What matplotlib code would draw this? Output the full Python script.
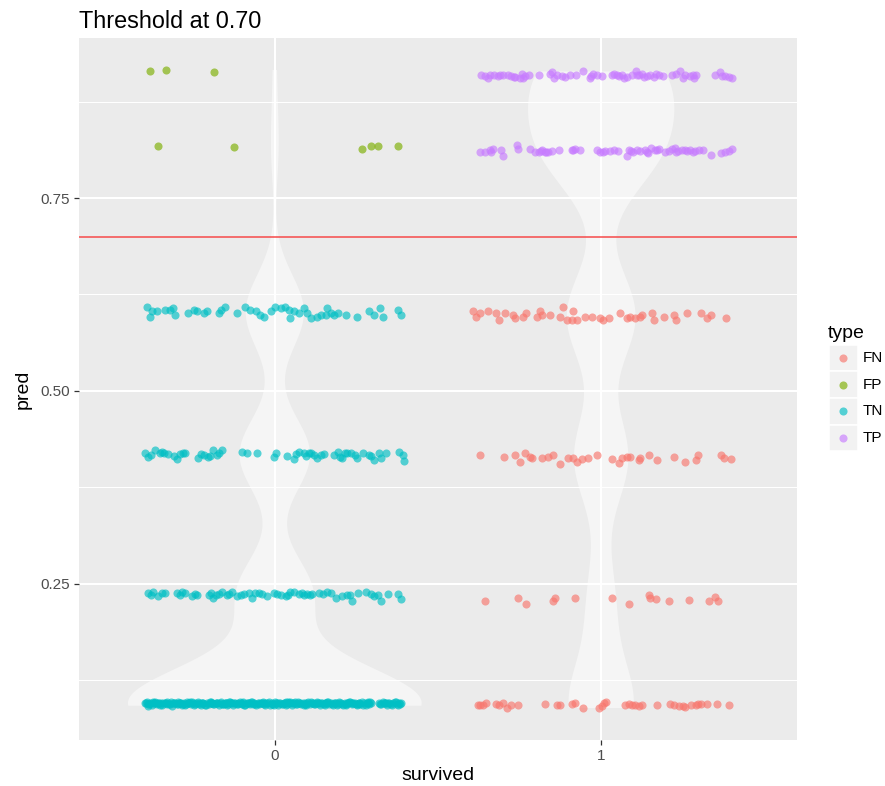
import numpy as np
import matplotlib
matplotlib.use("Agg")
import matplotlib.pyplot as plt
from matplotlib.patches import Rectangle

plt.rcParams["font.family"] = ["Liberation Sans", "DejaVu Sans"]

# ---------------------------------------------------------------- data
type_names = ["FN", "FP", "TN", "TP"]
type_colors = ["#F8766D", "#7CAE00", "#00BFC4", "#C77CFF"]
survived_levels = [0, 1]
threshold = 0.70
y_ticks = [0.25, 0.50, 0.75]
y_tick_labels = ["0.25", "0.50", "0.75"]

# jitter offsets (x, relative to the survived level) and predictions per band
fp_hi_x = [-0.382, -0.332, -0.187]
fp_hi_y = [0.914, 0.916, 0.913]
fp_lo_x = [-0.357, -0.124, 0.267, 0.294, 0.315, 0.378]
fp_lo_y = [0.817, 0.816, 0.814, 0.818, 0.817, 0.818]

tp_hi_x = [-0.367, -0.355, -0.342, -0.328, -0.316, -0.300, -0.287, -0.275, -0.263, -0.249,
           -0.239, -0.232, -0.222, -0.191, -0.157, -0.150, -0.136, -0.121, -0.111, -0.095,
           -0.078, -0.057, -0.034, -0.024, -0.013, 0.002, 0.033, 0.048, 0.055, 0.064,
           0.079, 0.094, 0.107, 0.115, 0.125, 0.141, 0.151, 0.161, 0.176, 0.189,
           0.217, 0.230, 0.243, 0.258, 0.271, 0.284, 0.289, 0.349, 0.363, 0.379,
           0.392, 0.402,
           -0.348, -0.310, -0.268, -0.243, -0.145, -0.030, 0.040, 0.070, 0.110, 0.132,
           0.168, 0.250, 0.280, 0.370]
tp_hi_y = [0.909, 0.908, 0.910, 0.909, 0.908, 0.909, 0.910, 0.908, 0.907, 0.906,
           0.905, 0.908, 0.910, 0.909, 0.911, 0.913, 0.910, 0.908, 0.907, 0.909,
           0.910, 0.914, 0.905, 0.911, 0.909, 0.908, 0.909, 0.910, 0.908, 0.909,
           0.907, 0.910, 0.914, 0.909, 0.911, 0.908, 0.909, 0.907, 0.910, 0.908,
           0.909, 0.911, 0.914, 0.910, 0.908, 0.905, 0.909, 0.909, 0.913, 0.908,
           0.907, 0.906,
           0.906, 0.910, 0.907, 0.911, 0.906, 0.908, 0.911, 0.906, 0.910, 0.907,
           0.911, 0.906, 0.910, 0.908]

tp_lo_x = [-0.372, -0.357, -0.342, -0.331, -0.306, -0.300, -0.259, -0.256, -0.218, -0.203,
           -0.191, -0.180, -0.172, -0.164, -0.150, -0.129, -0.090, -0.080, -0.065, -0.013,
           -0.003, 0.012, 0.028, 0.038, 0.053, 0.079, 0.086, 0.099, 0.110, 0.120,
           0.135, 0.144, 0.154, 0.166, 0.178, 0.195, 0.209, 0.217, 0.226, 0.236,
           0.248, 0.258, 0.271, 0.287, 0.299, 0.312, 0.335, 0.366, 0.379, 0.392,
           0.402,
           -0.338, -0.185, -0.168, -0.085, 0.005, 0.092, 0.140, 0.172, 0.230, 0.262, 0.280]
tp_lo_y = [0.809, 0.810, 0.812, 0.814, 0.812, 0.805, 0.819, 0.813, 0.814, 0.810,
           0.810, 0.812, 0.809, 0.810, 0.811, 0.812, 0.812, 0.813, 0.812, 0.812,
           0.810, 0.811, 0.811, 0.812, 0.811, 0.805, 0.812, 0.810, 0.812, 0.811,
           0.812, 0.808, 0.815, 0.812, 0.813, 0.809, 0.811, 0.813, 0.815, 0.811,
           0.812, 0.812, 0.812, 0.811, 0.812, 0.812, 0.806, 0.808, 0.810, 0.811,
           0.813,
           0.810, 0.811, 0.809, 0.812, 0.810, 0.811, 0.809, 0.812, 0.810, 0.811, 0.809]

tn_60_x = [-0.393, -0.383, -0.377, -0.362, -0.336, -0.321, -0.311, -0.306, -0.265, -0.249,
           -0.239, -0.218, -0.208, -0.172, -0.165, -0.152, -0.116, -0.090, -0.077, -0.059,
           -0.046, -0.032, -0.013, 0.002, 0.018, 0.030, 0.043, 0.048, 0.058, 0.074,
           0.089, 0.099, 0.110, 0.128, 0.141, 0.156, 0.161, 0.171, 0.182, 0.194,
           0.217, 0.253, 0.289, 0.305, 0.323, 0.330, 0.376, 0.387]
tn_60_y = [0.609, 0.596, 0.603, 0.603, 0.605, 0.605, 0.607, 0.598, 0.601, 0.605,
           0.603, 0.601, 0.603, 0.601, 0.605, 0.609, 0.601, 0.609, 0.605, 0.603,
           0.598, 0.596, 0.603, 0.609, 0.607, 0.609, 0.605, 0.594, 0.603, 0.601,
           0.607, 0.601, 0.594, 0.596, 0.598, 0.598, 0.607, 0.601, 0.598, 0.601,
           0.598, 0.596, 0.603, 0.598, 0.607, 0.596, 0.605, 0.598]

fn_60_x = [-0.393, -0.383, -0.370, -0.347, -0.321, -0.313, -0.295, -0.270, -0.265, -0.239,
           -0.231, -0.198, -0.188, -0.182, -0.157, -0.126, -0.116, -0.106, -0.090, -0.087,
           -0.075, -0.049, -0.029, -0.003, 0.007, 0.023, 0.058, 0.079, 0.089, 0.105,
           0.120, 0.125, 0.156, 0.161, 0.192, 0.222, 0.228, 0.264, 0.305, 0.325,
           0.335, 0.382]
fn_60_y = [0.603, 0.596, 0.601, 0.603, 0.601, 0.592, 0.601, 0.598, 0.594, 0.596,
           0.601, 0.596, 0.603, 0.598, 0.598, 0.596, 0.609, 0.592, 0.592, 0.603,
           0.592, 0.596, 0.596, 0.594, 0.592, 0.594, 0.601, 0.594, 0.596, 0.594,
           0.596, 0.598, 0.601, 0.592, 0.596, 0.598, 0.592, 0.601, 0.601, 0.594,
           0.598, 0.595]

tn_42_x = [-0.398, -0.388, -0.367, -0.352, -0.339, -0.326, -0.300, -0.290, -0.275, -0.234,
           -0.218, -0.198, -0.190, -0.177, -0.162, -0.101, -0.085, -0.054, -0.003, 0.005,
           0.036, 0.058, 0.074, 0.089, 0.105, 0.120, 0.128, 0.151, 0.182, 0.194,
           0.207, 0.222, 0.233, 0.253, 0.269, 0.289, 0.305, 0.325, 0.341, 0.382,
           0.392, 0.397,
           -0.380, -0.345, -0.310, -0.282, -0.225, -0.205, -0.170, 0.065, 0.097, 0.112,
           0.140, 0.200, 0.215, 0.245, 0.295, 0.318]
tn_42_y = [0.419, 0.415, 0.423, 0.419, 0.420, 0.418, 0.412, 0.418, 0.419, 0.413,
           0.417, 0.416, 0.423, 0.417, 0.423, 0.421, 0.420, 0.419, 0.415, 0.420,
           0.416, 0.412, 0.421, 0.419, 0.419, 0.417, 0.413, 0.418, 0.417, 0.421,
           0.413, 0.419, 0.419, 0.413, 0.419, 0.417, 0.411, 0.413, 0.420, 0.421,
           0.417, 0.409,
           0.417, 0.421, 0.416, 0.420, 0.418, 0.415, 0.420, 0.418, 0.416, 0.420,
           0.417, 0.415, 0.420, 0.417, 0.416, 0.419]

fn_42_x = [-0.372, -0.298, -0.265, -0.249, -0.234, -0.218, -0.213, -0.182, -0.162, -0.147,
           -0.126, -0.101, -0.085, -0.075, -0.059, -0.039, -0.013, 0.033, 0.056, 0.064,
           0.079, 0.089, 0.115, 0.120, 0.146, 0.171, 0.222, 0.258, 0.289, 0.296,
           0.366, 0.376, 0.397]
fn_42_y = [0.417, 0.414, 0.417, 0.408, 0.420, 0.414, 0.413, 0.413, 0.414, 0.417,
           0.405, 0.413, 0.413, 0.408, 0.412, 0.413, 0.417, 0.412, 0.407, 0.413,
           0.414, 0.415, 0.411, 0.413, 0.417, 0.411, 0.414, 0.408, 0.411, 0.417,
           0.417, 0.413, 0.412]

tn_24_x = [-0.388, -0.372, -0.357, -0.336, -0.300, -0.285, -0.275, -0.254, -0.239, -0.203,
           -0.188, -0.172, -0.162, -0.147, -0.131, -0.116, -0.095, -0.080, -0.070, -0.049,
           -0.039, -0.024, -0.003, 0.018, 0.033, 0.048, 0.058, 0.074, 0.089, 0.099,
           0.115, 0.135, 0.161, 0.171, 0.187, 0.207, 0.222, 0.238, 0.255, 0.279,
           0.296, 0.305, 0.325, 0.346, 0.376, 0.387,
           -0.380, -0.345, -0.292, -0.246, -0.195, -0.180, -0.139, -0.105, -0.060, 0.008,
           0.040, 0.082, 0.107, 0.148, 0.230, 0.315]
tn_24_y = [0.238, 0.239, 0.234, 0.238, 0.238, 0.239, 0.238, 0.234, 0.236, 0.236,
           0.232, 0.237, 0.239, 0.235, 0.239, 0.234, 0.237, 0.238, 0.232, 0.238,
           0.237, 0.234, 0.238, 0.236, 0.234, 0.239, 0.240, 0.237, 0.236, 0.237,
           0.237, 0.238, 0.240, 0.238, 0.232, 0.234, 0.236, 0.228, 0.238, 0.240,
           0.237, 0.234, 0.228, 0.237, 0.237, 0.230,
           0.236, 0.238, 0.235, 0.237, 0.238, 0.236, 0.237, 0.236, 0.238, 0.237,
           0.235, 0.238, 0.236, 0.237, 0.235, 0.236]

fn_24_x = [-0.357, -0.256, -0.231, -0.147, -0.142, -0.080, 0.033, 0.084, 0.146, 0.151,
           0.169, 0.207, 0.269, 0.330, 0.348, 0.358]
fn_24_y = [0.228, 0.232, 0.224, 0.228, 0.232, 0.232, 0.232, 0.224, 0.235, 0.232,
           0.230, 0.228, 0.229, 0.228, 0.233, 0.228]

tn_10_x = [-0.398, -0.392, -0.388, -0.381, -0.377, -0.370, -0.366, -0.361, -0.354, -0.349,
           -0.345, -0.338, -0.333, -0.329, -0.322, -0.316, -0.311, -0.307, -0.300, -0.296,
           -0.289, -0.284, -0.279, -0.273, -0.268, -0.262, -0.258, -0.251, -0.247, -0.240,
           -0.236, -0.231, -0.224, -0.219, -0.214, -0.208, -0.203, -0.197, -0.193, -0.186,
           -0.181, -0.176, -0.171, -0.165, -0.160, -0.154, -0.150, -0.143, -0.139, -0.133,
           -0.128, -0.122, -0.117, -0.112, -0.106, -0.101, -0.096, -0.090, -0.085, -0.079,
           -0.075, -0.069, -0.064, -0.058, -0.053, -0.048, -0.042, -0.037, -0.032, -0.026,
           -0.021, -0.016, -0.010, -0.005, 0.001, 0.006, 0.011, 0.017, 0.022, 0.027,
           0.033, 0.038, 0.043, 0.049, 0.054, 0.059, 0.065, 0.070, 0.075, 0.081,
           0.086, 0.091, 0.097, 0.102, 0.107, 0.113, 0.118, 0.123, 0.129, 0.134,
           0.139, 0.145, 0.150, 0.155, 0.161, 0.166, 0.171, 0.177, 0.182, 0.187,
           0.193, 0.198, 0.203, 0.209, 0.214, 0.219, 0.225, 0.230, 0.235, 0.241,
           0.246, 0.251, 0.257, 0.262, 0.267, 0.273, 0.278, 0.284, 0.289, 0.294,
           0.320, 0.326, 0.331, 0.337, 0.343, 0.349, 0.356, 0.362, 0.368, 0.374,
           0.380, 0.386,
           -0.395, -0.384, -0.374, -0.363, -0.352, -0.342, -0.331, -0.319, -0.309, -0.298,
           -0.287, -0.276, -0.265, -0.255, -0.244, -0.233, -0.222, -0.211, -0.200, -0.190,
           -0.178, -0.168, -0.157, -0.147, -0.136, -0.125, -0.114, -0.104, -0.093, -0.082,
           -0.072, -0.061, -0.050, -0.040, -0.029, -0.018, -0.008, 0.003, 0.014, 0.025,
           0.035, 0.046, 0.057, 0.067, 0.078, 0.088, 0.099, 0.110, 0.121, 0.131,
           0.142, 0.153, 0.163, 0.174, 0.185, 0.196, 0.206, 0.217, 0.227, 0.238,
           0.249, 0.259, 0.270, 0.281, 0.291, 0.323, 0.334, 0.346, 0.359, 0.371,
           0.383, -0.390, -0.358, -0.325, -0.293, -0.260, -0.227, -0.195, -0.163, -0.130,
           -0.098, -0.066, -0.034, -0.002, 0.030, 0.062, 0.094, 0.126, 0.158, 0.190,
           0.222, 0.254, 0.286, 0.340, 0.377, -0.372, -0.281, -0.150, 0.041]
tn_10_y = [0.095, 0.097, 0.094, 0.096, 0.093, 0.095, 0.097, 0.094, 0.096, 0.095,
           0.093, 0.096, 0.095, 0.097, 0.094, 0.092, 0.096, 0.095, 0.094, 0.097,
           0.095, 0.093, 0.096, 0.094, 0.097, 0.095, 0.094, 0.096, 0.093, 0.095,
           0.097, 0.094, 0.096, 0.095, 0.093, 0.096, 0.094, 0.097, 0.095, 0.094,
           0.096, 0.095, 0.093, 0.097, 0.094, 0.096, 0.095, 0.094, 0.097, 0.095,
           0.093, 0.096, 0.094, 0.095, 0.097, 0.094, 0.096, 0.093, 0.095, 0.096,
           0.094, 0.097, 0.095, 0.093, 0.096, 0.094, 0.095, 0.097, 0.094, 0.096,
           0.095, 0.093, 0.096, 0.094, 0.097, 0.095, 0.093, 0.096, 0.094, 0.095,
           0.097, 0.094, 0.096, 0.095, 0.093, 0.096, 0.094, 0.097, 0.095, 0.094,
           0.096, 0.095, 0.093, 0.097, 0.094, 0.096, 0.095, 0.094, 0.097, 0.095,
           0.093, 0.096, 0.094, 0.095, 0.097, 0.094, 0.096, 0.093, 0.095, 0.096,
           0.094, 0.097, 0.095, 0.093, 0.096, 0.094, 0.095, 0.097, 0.094, 0.096,
           0.095, 0.093, 0.096, 0.094, 0.097, 0.095, 0.093, 0.096, 0.094, 0.095,
           0.096, 0.094, 0.097, 0.095, 0.093, 0.096, 0.094, 0.095, 0.097, 0.094,
           0.096, 0.095,
           0.096, 0.094, 0.097, 0.095, 0.093, 0.096, 0.094, 0.097, 0.095, 0.094,
           0.096, 0.093, 0.095, 0.097, 0.094, 0.096, 0.095, 0.093, 0.097, 0.094,
           0.095, 0.096, 0.094, 0.093, 0.097, 0.095, 0.094, 0.096, 0.093, 0.095,
           0.097, 0.094, 0.096, 0.095, 0.093, 0.097, 0.094, 0.095, 0.096, 0.094,
           0.093, 0.097, 0.095, 0.094, 0.096, 0.093, 0.095, 0.097, 0.094, 0.096,
           0.095, 0.093, 0.097, 0.094, 0.096, 0.095, 0.094, 0.093, 0.097, 0.095,
           0.094, 0.096, 0.093, 0.095, 0.097, 0.094, 0.096, 0.095, 0.093, 0.097,
           0.094, 0.092, 0.096, 0.094, 0.095, 0.097, 0.093, 0.096, 0.094, 0.095,
           0.097, 0.094, 0.096, 0.093, 0.095, 0.097, 0.094, 0.096, 0.095, 0.093,
           0.096, 0.094, 0.097, 0.095, 0.093, 0.096, 0.094, 0.095, 0.097]

fn_10_x = [-0.377, -0.370, -0.362, -0.352, -0.321, -0.313, -0.300, -0.288, -0.275, -0.254,
           -0.172, -0.136, -0.126, -0.090, -0.080, -0.056, -0.008, 0.002, 0.009, 0.015,
           0.074, 0.084, 0.094, 0.105, 0.115, 0.125, 0.171, 0.210, 0.222, 0.238,
           0.251, 0.258, 0.274, 0.289, 0.296, 0.305, 0.325, 0.356, 0.392]
fn_10_y = [0.093, 0.093, 0.093, 0.095, 0.094, 0.093, 0.095, 0.089, 0.093, 0.093,
           0.094, 0.093, 0.093, 0.094, 0.095, 0.089, 0.089, 0.092, 0.095, 0.097,
           0.093, 0.094, 0.093, 0.093, 0.092, 0.093, 0.093, 0.094, 0.093, 0.092,
           0.092, 0.091, 0.093, 0.093, 0.094, 0.094, 0.094, 0.094, 0.093]

# (type, survived, x offsets, predictions)
bands = [
    ("TN", 0, tn_10_x, tn_10_y), ("TN", 0, tn_24_x, tn_24_y),
    ("TN", 0, tn_42_x, tn_42_y), ("TN", 0, tn_60_x, tn_60_y),
    ("FP", 0, fp_lo_x, fp_lo_y), ("FP", 0, fp_hi_x, fp_hi_y),
    ("FN", 1, fn_10_x, fn_10_y), ("FN", 1, fn_24_x, fn_24_y),
    ("FN", 1, fn_42_x, fn_42_y), ("FN", 1, fn_60_x, fn_60_y),
    ("TP", 1, tp_lo_x, tp_lo_y), ("TP", 1, tp_hi_x, tp_hi_y),
]

# violin kernel bandwidth per survived level, and maximum violin width
violin_bw = [0.048, 0.058]
violin_width = 0.9


# ---------------------------------------------------------------- helpers
def kde(v, grid, bw):
    v = np.asarray(v, float)
    z = (grid[:, None] - v[None, :]) / bw
    return np.exp(-0.5 * z ** 2).sum(axis=1) / (len(v) * bw * np.sqrt(2 * np.pi))


# ---------------------------------------------------------------- figure
W, H = 885, 786
fig = plt.figure(figsize=(W / 100, H / 100), dpi=100)
fig.patch.set_facecolor("white")
ax = fig.add_axes([79 / W, 1 - 740 / H, (797 - 79) / W, (740 - 38) / H])
ax.set_facecolor("#EBEBEB")
for sp in ax.spines.values():
    sp.set_visible(False)

all_y = np.concatenate([np.asarray(b[3], float) for b in bands])
pad = 0.05 * (all_y.max() - all_y.min())
ax.set_ylim(all_y.min() - pad, all_y.max() + pad)
ax.set_xlim(-0.6, 1.6)

# grid
ax.set_yticks(y_ticks)
ax.set_yticklabels(y_tick_labels)
step = y_ticks[1] - y_ticks[0]
minor = [y_ticks[0] - step / 2] + [t + step / 2 for t in y_ticks]
ax.set_yticks(minor, minor=True)
ax.set_xticks(survived_levels)
ax.set_xticklabels([str(s) for s in survived_levels])
ax.grid(True, which="major", color="white", linewidth=1.5, zorder=0)
ax.grid(True, which="minor", axis="y", color="white", linewidth=0.75, zorder=0)
ax.set_axisbelow(True)
ax.tick_params(which="major", length=3.5, width=0.9, color="#333333",
               labelsize=11, labelcolor="#4D4D4D", pad=3)
ax.tick_params(which="minor", length=0)

# violins (area scaled, trimmed to the data range)
dens = {}
for s, bw in zip(survived_levels, violin_bw):
    vals = np.concatenate([np.asarray(b[3], float) for b in bands if b[1] == s])
    grid = np.linspace(vals.min(), vals.max(), 512)
    dens[s] = (grid, kde(vals, grid, bw))
dmax = max(d.max() for _, d in dens.values())
for s in survived_levels:
    grid, d = dens[s]
    half = violin_width / 2 * d / dmax
    ax.fill_betweenx(grid, s - half, s + half, facecolor="white", alpha=0.5,
                     linewidth=0, zorder=2)

# jittered points
color_of = dict(zip(type_names, type_colors))
for t, s, xs, ys in bands:
    ax.scatter(s + np.asarray(xs), ys, s=34, color=color_of[t], alpha=0.65,
               linewidths=0, zorder=3)

ax.axhline(threshold, color="#F64A4A", linewidth=1.1, zorder=4)

ax.set_xlabel("survived", fontsize=14, labelpad=3)
ax.set_ylabel("pred", fontsize=14, labelpad=6)
ax.set_title("Threshold at 0.70", loc="left", fontsize=16.8, pad=7)

# legend
lax = fig.add_axes([0, 0, 1, 1], facecolor="none")
lax.set_xlim(0, W)
lax.set_ylim(H, 0)
lax.axis("off")
lax.text(828, 333, "type", fontsize=14, va="center", ha="left")
key_w, key_h = 28.5, 26.7
for i, (t, c) in enumerate(zip(type_names, type_colors)):
    cy = 358 + i * key_h
    lax.add_patch(Rectangle((829, cy - key_h / 2), key_w, key_h, facecolor="#F2F2F2",
                            edgecolor="white", linewidth=1.2))
    lax.scatter([829 + key_w / 2], [cy], s=34, color=c, alpha=0.65, linewidths=0)
    lax.text(863, cy, t, fontsize=11, va="center", ha="left")

fig.savefig("out.png", dpi=100)
